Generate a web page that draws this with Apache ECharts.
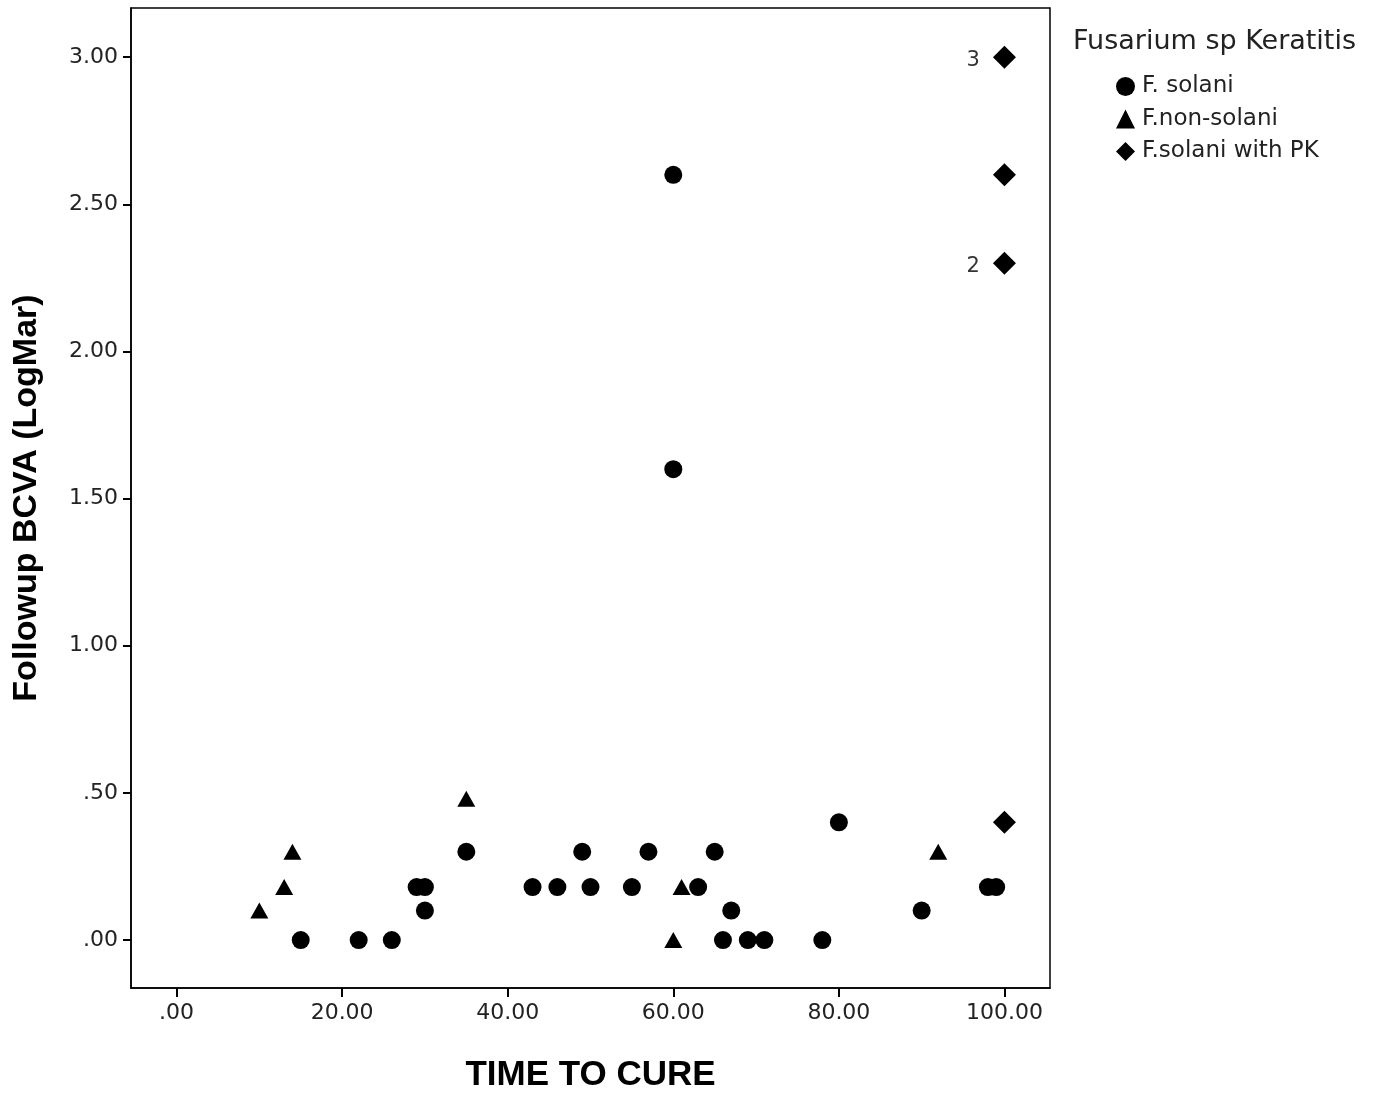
<!DOCTYPE html>
<html>
<head>
<meta charset="utf-8">
<script src="https://cdn.jsdelivr.net/npm/echarts@6/dist/echarts.min.js"></script>
<style>
  html, body { margin: 0; padding: 0; background: #fff; }
  #chart { width: 1378px; height: 1096px; }
</style>
</head>
<body>
<div id="chart"></div>
<script>
// F. solani  [time to cure, followup BCVA]
var solaniPts = [
  [15, 0], [22, 0], [26, 0], [29, 0.18], [30, 0.18], [30, 0.10], [35, 0.30],
  [43, 0.18], [46, 0.18], [49, 0.30], [50, 0.18], [55, 0.18], [57, 0.30],
  [60, 2.60], [60, 1.60], [63, 0.18], [65, 0.30], [66, 0], [67, 0.10],
  [69, 0], [71, 0], [78, 0], [80, 0.40], [90, 0.10], [98, 0.18], [99, 0.18]
];
// F.non-solani
var nonSolaniPts = [
  [10, 0.10], [13, 0.18], [14, 0.30], [35, 0.48], [60, 0], [61, 0.18], [92, 0.30]
];
// F.solani with PK
var pkPts = [[100, 3.00], [100, 2.60], [100, 2.30], [100, 0.40]];
var pkLabels = ['3', '', '2', ''];

var xTicks = [0, 20, 40, 60, 80, 100];
var yTicks = [0, 0.5, 1, 1.5, 2, 2.5, 3];

var seriesNames = ['F. solani', 'F.non-solani', 'F.solani with PK'];

function fmt(v) {
  var s = Number(v).toFixed(2);
  if (s.indexOf('0.') === 0) s = s.substr(1);
  return s;
}

var chart = echarts.init(document.getElementById('chart'));
var font = 'Liberation Sans, Arial, sans-serif';
var font2 = 'DejaVu Sans, sans-serif';

var option = {
  backgroundColor: '#fff',
  animation: false,
  title: {
    text: 'Fusarium sp Keratitis',
    left: 1068,
    top: 23,
    textStyle: { fontFamily: font2, fontSize: 27, fontWeight: 'normal', color: '#222' }
  },
  legend: {
    orient: 'vertical',
    left: 1116,
    top: 75,
    padding: 0,
    itemGap: 9.5,
    itemWidth: 19,
    itemHeight: 19,
    data: seriesNames,
    textStyle: { fontFamily: font2, fontSize: 23, lineHeight: 22, color: '#222', padding: [0, 0, 0, 2] }
  },
  grid: {
    left: 131, top: 8, right: 328, bottom: 108,
    show: true,
    borderColor: '#000',
    borderWidth: 1.5,
    containLabel: false,
    outerBoundsMode: 'none'
  },
  xAxis: {
    type: 'value',
    min: -5.5,
    max: 105.5,
    name: 'TIME TO CURE',
    nameLocation: 'middle',
    nameGap: 70,
    nameTextStyle: { fontFamily: font, fontSize: 35, fontWeight: 'bold', color: '#000' },
    axisLine: { show: true, onZero: false, lineStyle: { color: '#000', width: 1.5 } },
    axisTick: { show: true, customValues: xTicks, length: 9, lineStyle: { color: '#000', width: 2 } },
    axisLabel: {
      customValues: xTicks, formatter: fmt, margin: 14,
      fontFamily: font2, fontSize: 22, color: '#222'
    },
    splitLine: { show: false }
  },
  yAxis: {
    type: 'value',
    min: -0.163,
    max: 3.167,
    name: 'Followup BCVA (LogMar)',
    nameLocation: 'middle',
    nameGap: 87,
    nameRotate: 90,
    nameTextStyle: { fontFamily: font, fontSize: 34, fontWeight: 'bold', color: '#000' },
    axisLine: { show: true, onZero: false, lineStyle: { color: '#000', width: 1.5 } },
    axisTick: { show: true, customValues: yTicks, length: 8, lineStyle: { color: '#000', width: 2 } },
    axisLabel: {
      customValues: yTicks, formatter: fmt, margin: 13,
      fontFamily: font2, fontSize: 22, color: '#222'
    },
    splitLine: { show: false }
  },
  series: [
    {
      name: seriesNames[0],
      type: 'scatter',
      symbol: 'circle',
      symbolSize: 18,
      itemStyle: { color: '#000', opacity: 1 },
      data: solaniPts
    },
    {
      name: seriesNames[1],
      type: 'scatter',
      symbol: 'triangle',
      symbolSize: [18, 16],
      itemStyle: { color: '#000', opacity: 1 },
      data: nonSolaniPts
    },
    {
      name: seriesNames[2],
      type: 'scatter',
      symbol: 'diamond',
      symbolSize: 23,
      itemStyle: { color: '#000', opacity: 1 },
      label: {
        show: true,
        position: 'left',
        distance: 13,
        offset: [0, 3],
        fontFamily: font2,
        fontSize: 21,
        color: '#333',
        formatter: function (p) { return pkLabels[p.dataIndex]; }
      },
      data: pkPts
    }
  ]
};

chart.setOption(option);
</script>
</body>
</html>
